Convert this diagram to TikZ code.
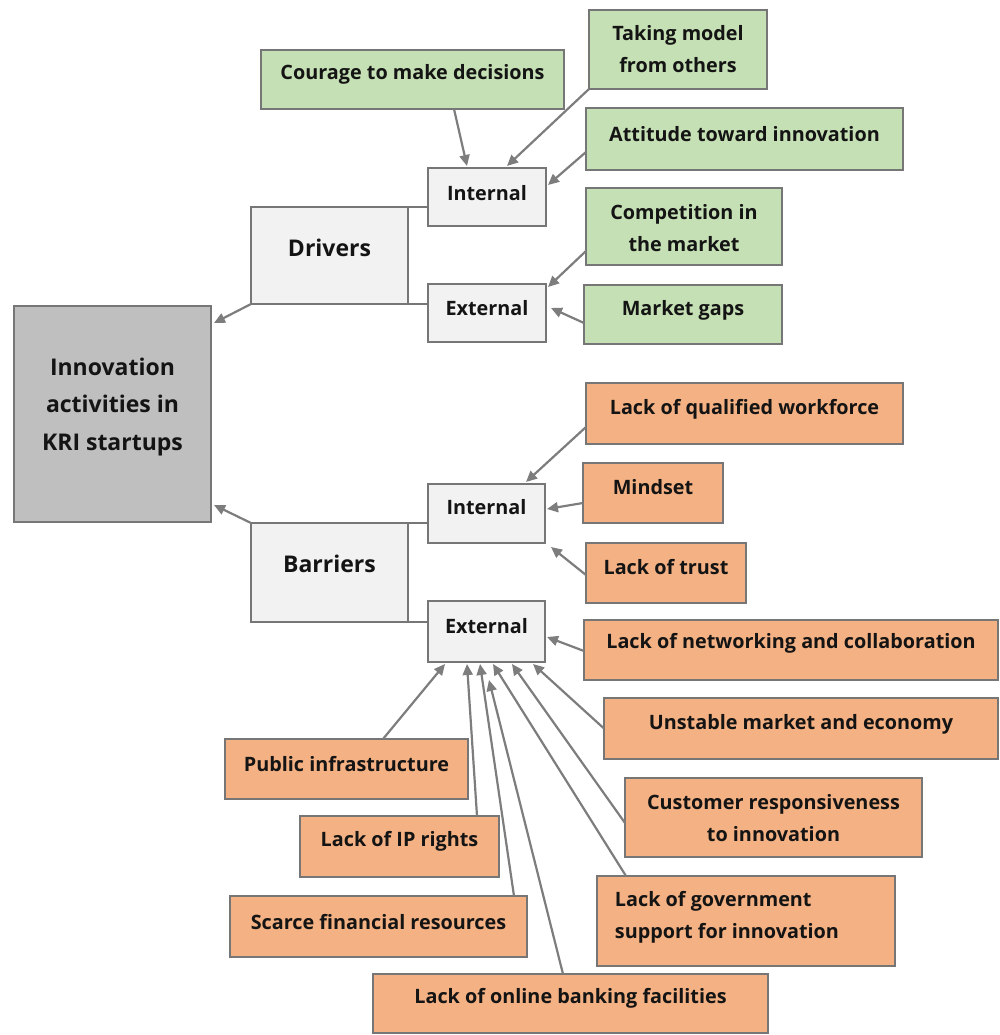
\documentclass[tikz,border=0pt]{standalone}
\usepackage{fontspec}
\setmainfont{Open Sans}
\usetikzlibrary{arrows.meta,calc}

\definecolor{edge}{RGB}{118,118,118}
\definecolor{arrowgray}{RGB}{125,125,125}
\definecolor{greenfill}{RGB}{197,224,180}
\definecolor{orangefill}{RGB}{244,177,131}
\definecolor{lightfill}{RGB}{242,242,242}
\definecolor{hubfill}{RGB}{191,191,191}
\definecolor{ink}{RGB}{20,20,20}

\begin{document}
\begin{tikzpicture}[x=1pt,y=-1pt,
  box/.style={rectangle, draw=edge, line width=2.8pt, inner sep=0pt, outer sep=0pt},
  hub/.style={box, fill=hubfill},
  mid/.style={box, fill=lightfill},
  drv/.style={box, fill=greenfill},
  bar/.style={box, fill=orangefill},
  txt/.style={font=\bfseries\fontsize{19.8}{32}\selectfont, align=center, text=ink},
  big/.style={font=\bfseries\fontsize{23}{37.5}\selectfont, align=center, text=ink},
  link/.style={draw=arrowgray, line width=2.2pt, -{Triangle[length=11pt,width=10pt]}},
  tie/.style={draw=edge, line width=2.8pt}
]
\useasboundingbox (0,0) rectangle (999,1035);

% central box and the two branches
\node[hub, minimum width=197, minimum height=216,
  label={[big, yshift=7]center:{Innovation\\activities in\\KRI startups}}] (main) at (112.5,414) {};
\node[mid, minimum width=157, minimum height=97,
  label={[big, yshift=7.5]center:Drivers}] (drivers) at (329.5,255.5) {};
\node[mid, minimum width=157, minimum height=99,
  label={[big, yshift=8.5]center:Barriers}] (barriers) at (329.5,572.5) {};

% internal / external groups
\node[mid, minimum width=118, minimum height=58,
  label={[txt, yshift=4]center:Internal}] (intD) at (487,197) {};
\node[mid, minimum width=118, minimum height=58,
  label={[txt, yshift=5]center:External}] (extD) at (487,313) {};
\node[mid, minimum width=117, minimum height=59,
  label={[txt, yshift=6.5]center:Internal}] (intB) at (486.5,513.5) {};
\node[mid, minimum width=117, minimum height=61,
  label={[txt, yshift=5.5]center:External}] (extB) at (486.5,631.5) {};

% drivers
\node[drv, minimum width=303, minimum height=59,
  label={[txt, yshift=5.5]center:Courage to make decisions}] (courage) at (412.5,79.5) {};
\node[drv, minimum width=178, minimum height=79,
  label={[txt]center:{Taking model\\from others}}] (taking) at (678,49.5) {};
\node[drv, minimum width=317, minimum height=62,
  label={[txt, yshift=5]center:Attitude toward innovation}] (attitude) at (744.5,139) {};
\node[drv, minimum width=196, minimum height=77,
  label={[txt, yshift=-2]center:{Competition in\\the market}}] (competition) at (684,226.5) {};
\node[drv, minimum width=198, minimum height=59,
  label={[txt, yshift=4.5]center:Market gaps}] (marketgaps) at (683,314.5) {};

% barriers
\node[bar, minimum width=317, minimum height=61,
  label={[txt, yshift=4.5]center:Lack of qualified workforce}] (qualified) at (744.5,413.5) {};
\node[bar, minimum width=140, minimum height=60,
  label={[txt, yshift=6]center:Mindset}] (mindset) at (653,493) {};
\node[bar, minimum width=160, minimum height=60,
  label={[txt, yshift=6]center:Lack of trust}] (trust) at (666,573) {};
\node[bar, minimum width=414, minimum height=60,
  label={[txt, yshift=7]center:Lack of networking and collaboration}] (networking) at (791,650) {};
\node[bar, minimum width=394, minimum height=61,
  label={[txt, yshift=4.5]center:Unstable market and economy}] (unstable) at (801,728.5) {};
\node[bar, minimum width=297, minimum height=79,
  label={[txt, yshift=-1]center:{Customer responsiveness\\to innovation}}] (customer) at (773.5,817.5) {};
\node[bar, minimum width=298, minimum height=90,
  label={[txt, align=left, xshift=-19, yshift=3.5]center:{Lack of government\\support for innovation}}] (government) at (746,921) {};
\node[bar, minimum width=243, minimum height=60,
  label={[txt, yshift=5]center:Public infrastructure}] (public) at (346.5,769) {};
\node[bar, minimum width=199, minimum height=61,
  label={[txt, yshift=5.5]center:Lack of IP rights}] (ip) at (399.5,846.5) {};
\node[bar, minimum width=297, minimum height=61,
  label={[txt, yshift=4.5]center:Scarce financial resources}] (scarce) at (378.5,926.5) {};
\node[bar, minimum width=395, minimum height=59,
  label={[txt, yshift=5.5]center:Lack of online banking facilities}] (banking) at (570.5,1003.5) {};

% plain ties from the branches to their groups
\draw[tie] (drivers.north east) -- (drivers.north east -| intD.west);
\draw[tie] (drivers.south east) -- (drivers.south east -| extD.west);
\draw[tie] (barriers.north east) -- (barriers.north east -| intB.west);
\draw[tie] (barriers.south east) -- (barriers.south east -| extB.west);

% branches into the central box
\draw[link] (drivers.south west) -- ($(main.north east)+(3,17)$);
\draw[link] (barriers.north west) -- ($(main.south east)+(3,-17)$);

% drivers into their groups
\draw[link] ($(courage.south)+(41.5,0)$) -- ($(intD.north)+(-20,-2)$);
\draw[link] (taking.south west) -- ($(intD.north)+(20,-2)$);
\draw[link] ($(attitude.west)+(0,13)$) -- ($(intD.east)+(2,-12)$);
\draw[link] ($(competition.west)+(0,24.5)$) -- ($(extD.north east)+(2,3)$);
\draw[link] ($(marketgaps.west)+(0,8.5)$) -- ($(extD.east)+(5,-5)$);

% internal barriers
\draw[link] ($(qualified.west)+(0,13.5)$) -- ($(intB.north)+(39.5,-2)$);
\draw[link] ($(mindset.west)+(0,10)$) -- ($(intB.east)+(2,-4.5)$);
\draw[link] ($(trust.west)+(0,2)$) -- ($(intB.south east)+(6,4)$);

% external barriers
\draw[link] ($(networking.west)+(0,1)$) -- ($(extB.east)+(2,5.5)$);
\draw[link] (unstable.west) -- ($(extB.south)+(46.5,2)$);
\draw[link] ($(customer.west)+(0,5.5)$) -- ($(extB.south)+(25.5,2)$);
\draw[link] ($(government.north west)+(29,0)$) -- ($(extB.south)+(6.5,2)$);
\draw[link] ($(banking.north)+(-7.5,0)$) -- ($(extB.south)+(2.5,18)$);
\draw[link] ($(scarce.north)+(135.5,0)$) -- ($(extB.south)+(-6.5,2)$);
\draw[link] ($(ip.north)+(77.5,0)$) -- ($(extB.south)+(-19.5,2)$);
\draw[link] ($(public.north)+(36.5,0)$) -- ($(extB.south)+(-41.5,2)$);
\end{tikzpicture}
\end{document}
